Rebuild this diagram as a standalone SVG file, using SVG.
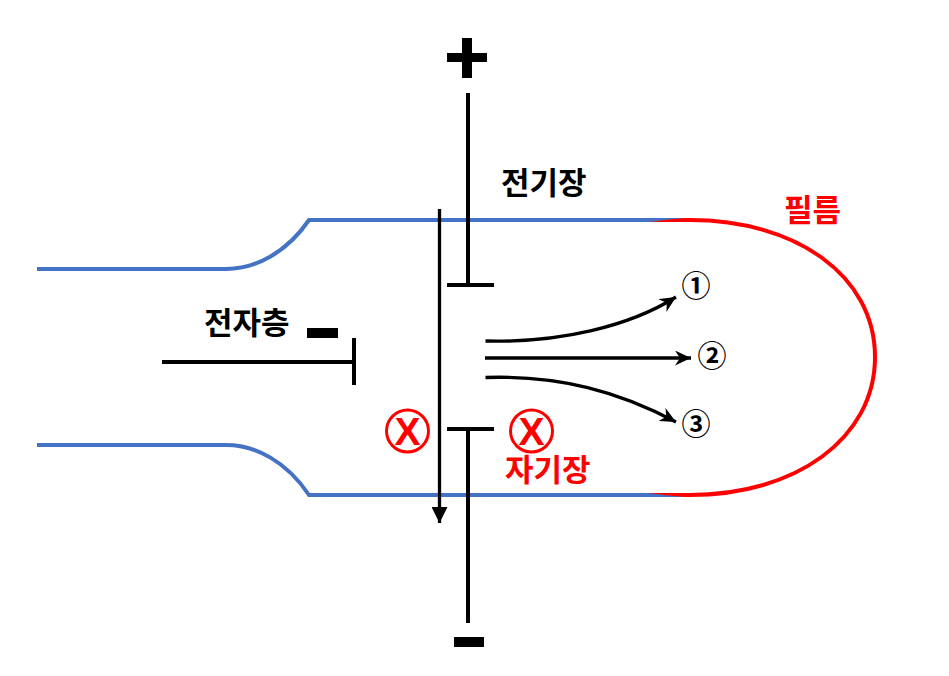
<svg xmlns="http://www.w3.org/2000/svg" width="949" height="676" viewBox="0 0 949 676">
<style>
.b{fill:none;stroke:#4472c4;stroke-width:4}
.r{fill:none;stroke:#ff0000;stroke-width:4}
.k{fill:none;stroke:#000;stroke-width:4}
.a{fill:none;stroke:#000;stroke-width:3.3}
.t{font-family:"Noto Sans CJK KR","Noto Sans",sans-serif;font-size:31px;font-weight:700}
.n{font-family:"Noto Sans CJK KR",sans-serif;font-size:29px;font-weight:700;text-anchor:middle}
.x{font-family:"Liberation Sans",sans-serif;font-size:39px;font-weight:700;fill:#f00;text-anchor:middle}
</style>
<defs>
<marker id="m" viewBox="0 0 16 15" refX="16" refY="7.5" markerWidth="16" markerHeight="15" markerUnits="userSpaceOnUse" orient="auto"><path d="M0 0L16 7.5L0 15L5 7.5z"/></marker>
<marker id="d" viewBox="0 0 16 16" refX="16" refY="8" markerWidth="16" markerHeight="16" markerUnits="userSpaceOnUse" orient="auto"><path d="M0 0L16 8L0 16z"/></marker>
</defs>
<rect width="949" height="676" fill="#fff"/>
<g id="film-tube"><path class="b" d="M37 269H226C256 269 287 252 309 220H685"/><path class="b" d="M37 445H226C256 445 287 462 309 495H685"/><path class="r" d="M690 220C795 220 875 275 875 357C875 439 795 495 690 495"/><path d="M650 222C665 220 680 218 691 218V222z" fill="#f00"/><path d="M648 493C665 495 680 497 691 497V493z" fill="#f00"/></g>
<g id="electrodes"><path class="k" d="M468 93V285M447 285H494M468 429V623M447 429H494M162 362H354M354 338V385"/><rect x="307" y="328" width="31" height="10"/><rect x="454" y="637" width="30" height="10"/><path d="M462 38h10v15h15v9h-15v16h-10v-16h-15v-9h15z"/></g>
<g id="connectors"><path class="a" d="M439.5 209V523" marker-end="url(#d)"/><path class="a" d="M485.5 341C560 343 630 326 676 297" marker-end="url(#m)"/><path class="a" d="M485 358H691" marker-end="url(#m)"/><path class="a" d="M485.5 377.5C560 375 620 392 676 422" marker-end="url(#m)"/></g>
<g id="labels"><text class="t" x="501" y="193.5">전기장</text><text class="t" x="784" y="220.5" fill="#f00">필름</text><text class="t" x="204" y="333.5">전자층</text><text class="t" x="505" y="480.5" fill="#f00">자기장</text><text class="n" x="696" y="297">①</text><text class="n" x="712" y="366.5">②</text><text class="n" x="696" y="434.5">③</text></g>
<g id="x1"><circle cx="407.5" cy="431" r="21" fill="none" stroke="#f00" stroke-width="3"/><text class="x" x="407.5" y="445">X</text></g>
<g id="x2"><circle cx="531.5" cy="431" r="21" fill="none" stroke="#f00" stroke-width="3"/><text class="x" x="531.5" y="445">X</text></g>
</svg>
